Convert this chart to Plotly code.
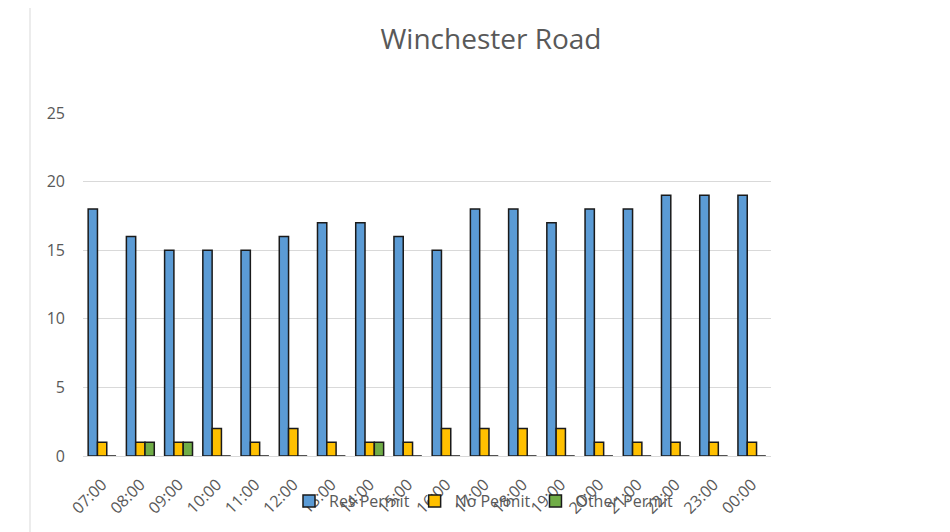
import plotly.graph_objects as go

categories = ["07:00", "08:00", "09:00", "10:00", "11:00", "12:00", "13:00", "14:00", "15:00",
              "16:00", "17:00", "18:00", "19:00", "20:00", "21:00", "22:00", "23:00", "00:00"]
res_permit = [18, 16, 15, 15, 15, 16, 17, 17, 16, 15, 18, 18, 17, 18, 18, 19, 19, 19]
no_permit = [1, 1, 1, 2, 1, 2, 1, 1, 1, 2, 2, 2, 2, 1, 1, 1, 1, 1]
other_permit = [0, 1, 1, 0, 0, 0, 0, 1, 0, 0, 0, 0, 0, 0, 0, 0, 0, 0]
title_text = "Winchester Road"

# the page body has an 8px margin; work in window pixels and shift
OFF = 8
W, H = 950 - OFF, 532 - OFF
L, R, T, B = 83 - OFF, 771 - OFF, 113 - OFF, 456 - OFF
pw, ph = R - L, B - T

def px_x(x):
    return (x - OFF - L) / pw

def px_y(y):
    return (B - (y - OFF)) / ph

fig = go.Figure()
series = [("Res Permit", res_permit, "#5B9BD5"),
          ("No Permit", no_permit, "#FFC000"),
          ("Other Permit", other_permit, "#70AD47")]
for name, vals, col in series:
    fig.add_trace(go.Bar(
        x=categories, y=vals, name=name,
        marker=dict(color=col, line=dict(color="#1a1a1a", width=1.5)),
    ))

fig.update_layout(
    width=W, height=H,
    margin=dict(l=L, r=W - R, t=T, b=H - B, pad=0),
    paper_bgcolor="white", plot_bgcolor="white",
    barmode="group", bargap=0.27, bargroupgap=0,
    font=dict(family="Open Sans, Liberation Sans, sans-serif", color="#595959", size=16),
    title=dict(text=title_text, x=px_x(491), xref="paper", xanchor="center",
               y=1 - (39 - OFF) / H, yanchor="middle",
               font=dict(size=28, color="#595959", family="Open Sans, sans-serif")),
    xaxis=dict(type="category", tickangle=-45, showgrid=False, showline=True,
               linecolor="#d9d9d9", linewidth=1, ticks="", ticklabelstandoff=12,
               tickfont=dict(size=16, color="#595959")),
    yaxis=dict(range=[0, 25], dtick=5, showgrid=True, gridcolor="#d9d9d9", gridwidth=1,
               zeroline=False, showline=False, ticks="", ticklabelstandoff=17,
               tickfont=dict(size=16, color="#595959")),
    legend=dict(orientation="h", x=px_x(303 - 14), xanchor="left", y=px_y(501), yanchor="middle",
                bgcolor="rgba(0,0,0,0)", font=dict(size=16, color="#595959"),
                itemwidth=30, traceorder="normal"),
    showlegend=True,
)

fig.add_shape(type="rect", xref="paper", yref="paper",
              x0=px_x(30), x1=px_x(1200), y0=px_y(800), y1=px_y(1.5),
              line=dict(color="#d9d9d9", width=1), fillcolor="rgba(0,0,0,0)", layer="below")

fig.write_html("out.html")
